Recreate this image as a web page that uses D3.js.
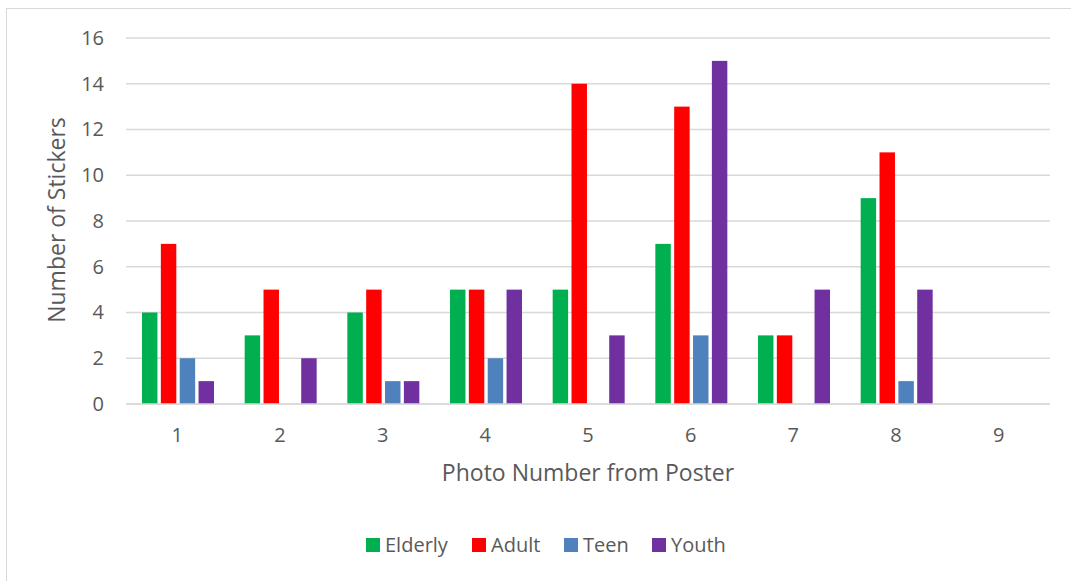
<!DOCTYPE html>
<html><head><meta charset="utf-8">
<script src="https://cdn.jsdelivr.net/npm/d3@7"></script>
<style>
body{margin:0;background:#fff;}
text{font-family:"Open Sans",sans-serif;fill:#595959;}
</style></head>
<body><svg id="c" width="1071" height="581"></svg>
<script>
const categories = ["1","2","3","4","5","6","7","8","9"];
const seriesNames = ["Elderly","Adult","Teen","Youth"];
const seriesColors = ["#00B050","#FF0000","#4F81BD","#7030A0"];
const elderly = [4,3,4,5,5,7,3,9,0];
const adult   = [7,5,5,5,14,13,3,11,0];
const teen    = [2,0,1,2,0,3,0,1,0];
const youth   = [1,2,1,5,3,15,5,5,0];
const yTicks  = [0,2,4,6,8,10,12,14,16];
const values = [elderly, adult, teen, youth];

const svg = d3.select("#c");
svg.append("rect").attr("x",6.5).attr("y",8.5).attr("width",1080).attr("height",600)
  .attr("fill","#fff").attr("stroke","#d9d9d9");

const m = {left:126, right:1050, top:38, bottom:404};
const x0 = d3.scaleBand().domain(categories).range([m.left, m.right]).padding(0);
const x1 = d3.scaleBand().domain(seriesNames).range([16, 88]).paddingInner(0.18);
const y = d3.scaleLinear().domain([0,16]).range([m.bottom, m.top]);

// gridlines
svg.append("g").selectAll("line").data(yTicks).join("line")
  .attr("x1",m.left).attr("x2",m.right)
  .attr("y1",d=>y(d)).attr("y2",d=>y(d))
  .attr("stroke","#d9d9d9").attr("stroke-width",1.3);

// y axis labels
const ya = svg.append("g").attr("transform",`translate(${m.left},0)`)
  .call(d3.axisLeft(y).tickValues(yTicks).tickSize(0).tickPadding(22));
ya.select(".domain").remove();
ya.selectAll("text").style("font-size","20px").attr("fill","#595959").style("font-family","Open Sans");

// bars
const groups = svg.append("g").selectAll("g").data(categories).join("g")
  .attr("transform",d=>`translate(${x0(d)},0)`);
groups.selectAll("rect").data((d,i)=>seriesNames.map((s,j)=>({s, v:values[j][i], c:seriesColors[j]})))
  .join("rect")
  .attr("x",d=>x1(d.s)).attr("width",x1.bandwidth())
  .attr("y",d=>y(d.v)).attr("height",d=>y(0)-y(d.v))
  .attr("fill",d=>d.c);

// baseline
svg.append("line").attr("x1",m.left).attr("x2",m.right).attr("y1",y(0)).attr("y2",y(0))
  .attr("stroke","#d9d9d9").attr("stroke-width",1.5);

// x axis labels
const xa = svg.append("g").attr("transform",`translate(0,${m.bottom})`)
  .call(d3.axisBottom(x0).tickSize(0).tickPadding(24));
xa.select(".domain").remove();
xa.selectAll("text").style("font-size","20px").attr("fill","#595959").style("font-family","Open Sans");

// axis titles
svg.append("text").attr("x",588).attr("y",481).attr("text-anchor","middle")
  .style("font-size","23px").text("Photo Number from Poster");
svg.append("text").attr("transform","translate(65,220) rotate(-90)").attr("text-anchor","middle")
  .style("font-size","23px").text("Number of Stickers");

// legend
const legX = [366, 472, 564, 652];
const leg = svg.append("g").selectAll("g").data(seriesNames).join("g")
  .attr("transform",(d,i)=>`translate(${legX[i]},538)`);
leg.append("rect").attr("width",14).attr("height",14).attr("fill",(d,i)=>seriesColors[i]);
leg.append("text").attr("x",19).attr("y",14).style("font-size","20px").text(d=>d);
</script></body></html>
